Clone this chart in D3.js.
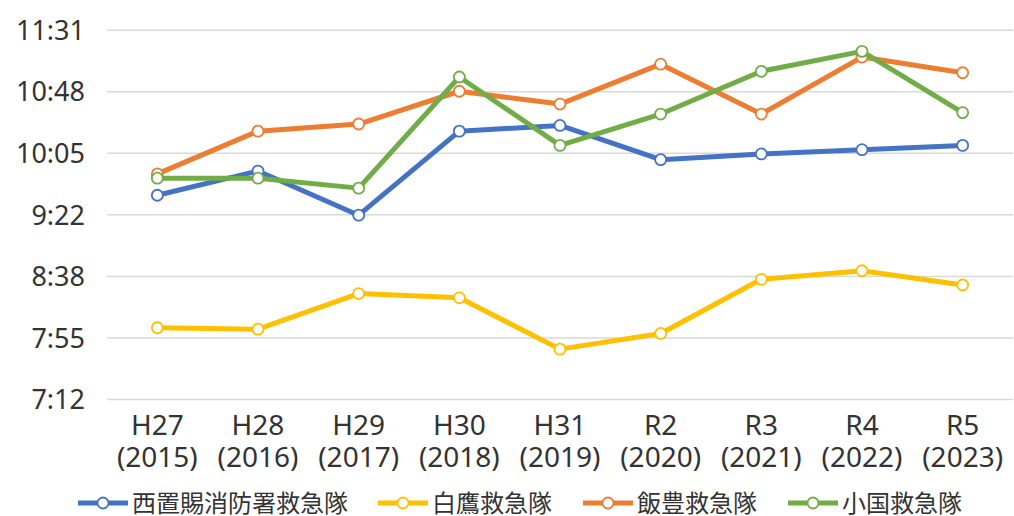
<!DOCTYPE html>
<html><head><meta charset="utf-8">
<script src="https://cdn.jsdelivr.net/npm/d3@7"></script>
<style>
html,body{margin:0;padding:0;background:#fff;}
svg text{font-family:"Noto Sans CJK JP","Noto Sans",sans-serif;fill:#333;}
svg text.num{font-family:"Noto Sans","Noto Sans CJK JP",sans-serif;}
</style></head><body>
<svg id="chart" width="1014" height="516"></svg>
<script>
const categories = ["H27","H28","H29","H30","H31","R2","R3","R4","R5"];
const years = ["2015","2016","2017","2018","2019","2020","2021","2022","2023"];
const seriesNames = ["西置賜消防署救急隊","白鷹救急隊","飯豊救急隊","小国救急隊"];
const seriesColors = ["#4472C4","#FFC000","#ED7D31","#70AD47"];
const nishiokitama = ["9:35","9:52","9:21","10:20","10:24","10:00","10:04","10:07","10:10"];
const shirataka   = ["8:02","8:01","8:26","8:23","7:47","7:58","8:36","8:42","8:32"];
const iide        = ["9:50","10:20","10:25","10:48","10:39","11:07","10:32","11:12","11:01"];
const oguni       = ["9:47","9:47","9:40","10:58","10:10","10:32","11:02","11:16","10:33"];
const yTickLabels = ["7:12","7:55","8:38","9:22","10:05","10:48","11:31"];
const yMin = "7:12", yStep = 43.2;

(function(){
const toMin = s => { const p = s.split(":").map(Number); return p[0]*60 + p[1]; };
const allSeries = [nishiokitama, shirataka, iide, oguni];

const svg = d3.select("#chart");
const pLeft = 107, pRight = 1013, pTop = 29.7, pBottom = 399;
const x = d3.scalePoint().domain(categories).range([pLeft, pRight]).padding(0.5);
const y = d3.scaleLinear().domain([toMin(yMin), toMin(yMin) + yStep*6]).range([pBottom, pTop]);
const tickVals = yTickLabels.map((l,i) => toMin(yMin) + i*yStep);

const yAxis = d3.axisLeft(y).tickValues(tickVals).tickSize(-(pRight-pLeft))
  .tickFormat((d,i) => yTickLabels[i]).tickPadding(22);
const gy = svg.append("g").attr("transform", `translate(${pLeft},0)`).call(yAxis);
gy.attr("font-family", null).attr("font-size", null);
gy.select(".domain").remove();
gy.selectAll(".tick line").attr("stroke","#d9d9d9").attr("stroke-width",1.5);
gy.selectAll(".tick text").attr("class","num").attr("font-size",27).attr("fill","#333").attr("dy","0.36em");

const gx = svg.append("g");
categories.forEach((c,i) => {
  gx.append("text").attr("class","num").attr("text-anchor","middle").attr("font-size",28)
    .attr("x", x(c)).attr("y", 435).text(c);
  gx.append("text").attr("class","num").attr("text-anchor","middle").attr("font-size",28)
    .attr("x", x(c)).attr("y", 467).text("(" + years[i] + ")");
});

const line = d3.line().x((d,i) => x(categories[i])).y(d => y(toMin(d)));
allSeries.forEach((s, k) => {
  const g = svg.append("g");
  g.append("path").datum(s).attr("d", line).attr("fill","none")
    .attr("stroke", seriesColors[k]).attr("stroke-width",5).attr("stroke-linejoin","round");
  g.selectAll("circle").data(s).join("circle")
    .attr("cx",(d,i)=>x(categories[i])).attr("cy",d=>y(toMin(d))).attr("r",5.5)
    .attr("fill","#fff").attr("stroke",seriesColors[k]).attr("stroke-width",1.8);
});

const legendX = [78, 378, 583, 788];
const lg = svg.append("g");
seriesNames.forEach((n,k) => {
  const lx = legendX[k], ly = 503;
  lg.append("line").attr("x1",lx).attr("x2",lx+50).attr("y1",ly).attr("y2",ly)
    .attr("stroke",seriesColors[k]).attr("stroke-width",5);
  lg.append("circle").attr("cx",lx+25).attr("cy",ly).attr("r",5.5)
    .attr("fill","#fff").attr("stroke",seriesColors[k]).attr("stroke-width",1.8);
  lg.append("text").attr("x",lx+54).attr("y",ly).attr("dy","0.36em").attr("font-size",24).text(n);
});
})();
</script>
</body></html>
